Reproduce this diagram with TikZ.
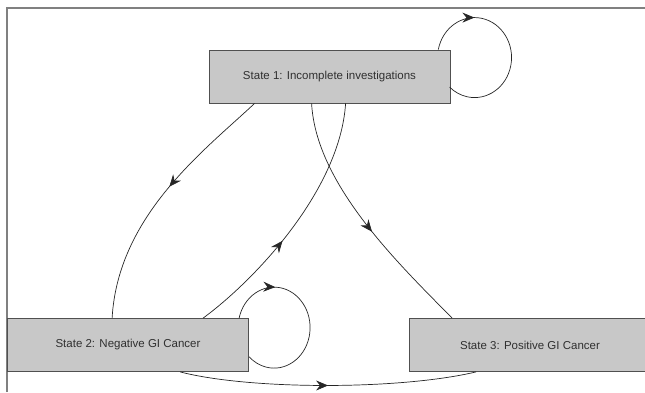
\documentclass[tikz,border=0pt]{standalone}
\usepackage{fontspec}
\setmainfont{Liberation Sans}
\usetikzlibrary{arrows.meta,decorations.markings}
\definecolor{boxfill}{HTML}{C8C8C8}
\definecolor{boxline}{HTML}{505050}
\definecolor{txt}{HTML}{303030}
\definecolor{frameline}{HTML}{808080}
\tikzset{
  statebox/.style={draw=boxline, line width=0.8pt, fill=boxfill, minimum width=241pt, minimum height=53pt,
    inner sep=0pt, text=txt, font=\fontsize{11.5}{13}\selectfont},
  edge/.style={draw=black!85, line width=0.7pt},
  mytip/.tip={Stealth[length=12pt,width=10pt,inset=4pt]},
  midarrow/.style={decoration={markings, mark=at position #1 with {\arrow{mytip}}}, postaction=decorate}
}
\begin{document}
\begin{tikzpicture}[x=1pt,y=1pt]
\useasboundingbox (0,0) rectangle (645,392);
\draw[frameline, line width=2pt] (7,0) -- (7,384) -- (645,384);
\node[statebox] (b1) at (329.5,315.5) {State 1: Incomplete investigations};
\node[statebox] (b2) at (128,47) {State 2: Negative GI Cancer};
\node[statebox] (b3) at (530,47) {State 3: Positive GI Cancer};
% self loop on state 1
\draw[edge, midarrow=0.26] ([xshift=229.7pt]b1.north west) arc[start angle=168.5, end angle=-132.5, x radius=37, y radius=40];
% self loop on state 2
\draw[edge, midarrow=0.26] ([xshift=232pt]b2.north west) arc[start angle=166.4, end angle=-134, x radius=36, y radius=40.5];
% 1 -> 2
\draw[edge, midarrow=0.45] ([xshift=46pt]b1.south west) .. controls (205,242) and (118,177) .. ([xshift=105pt]b2.north west);
% 2 -> 1
\draw[edge, midarrow=0.42] ([xshift=196pt]b2.north west) .. controls (255,112) and (340,202) .. ([xshift=137pt]b1.south west);
% 1 -> 3
\draw[edge, midarrow=0.55] ([xshift=103pt]b1.south west) .. controls (316,207) and (400,127) .. ([xshift=43pt]b3.north west);
% 2 -> 3
\draw[edge, midarrow=0.5] ([xshift=173pt]b2.south west) .. controls (250,2) and (400,2) .. ([xshift=67pt]b3.south west);
\end{tikzpicture}
\end{document}
